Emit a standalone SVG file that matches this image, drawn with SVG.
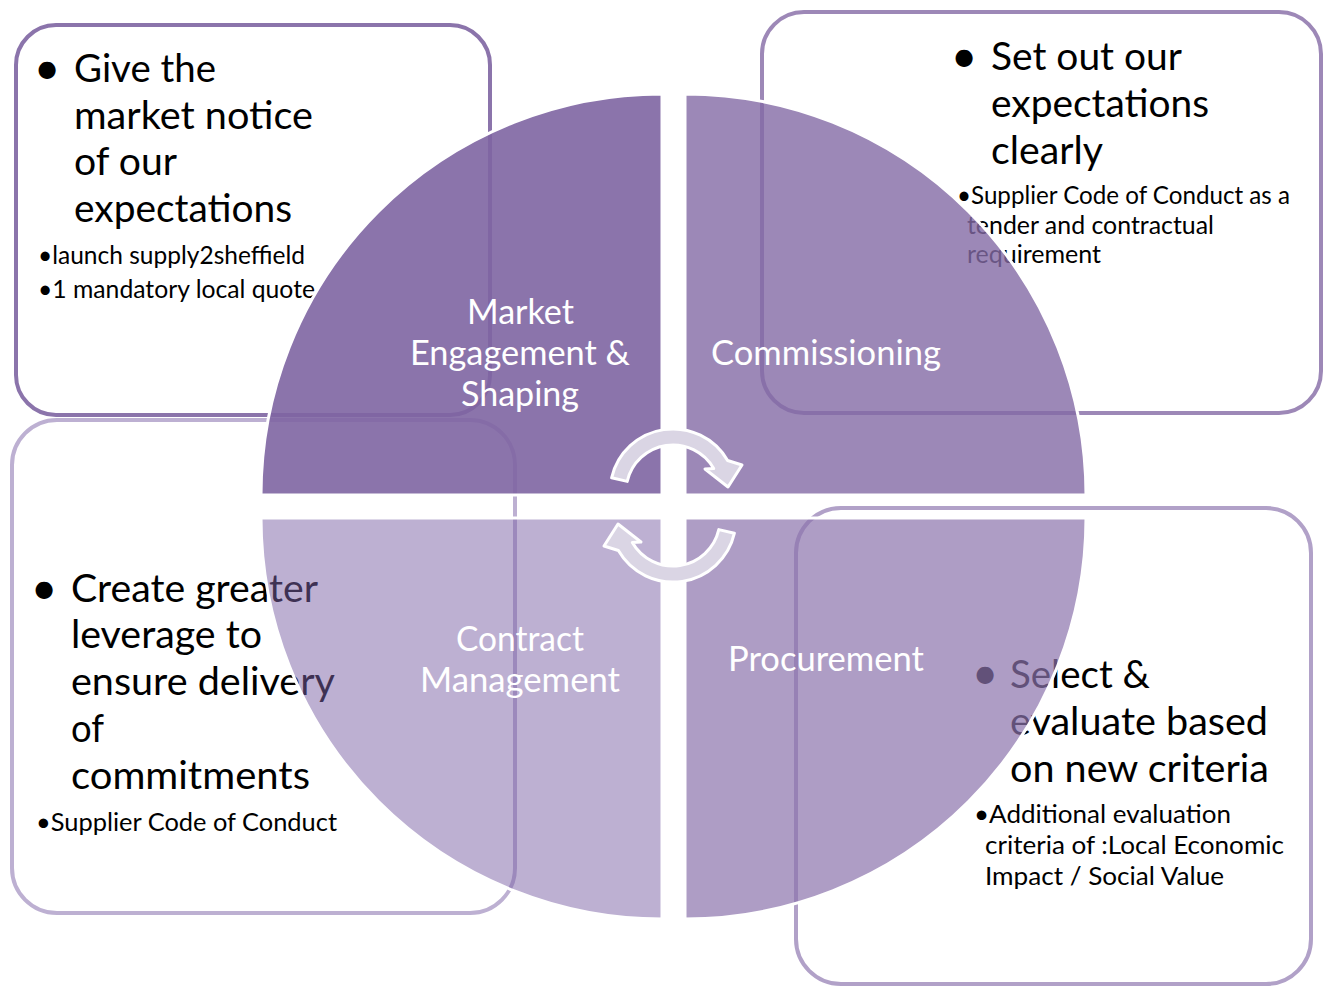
<svg xmlns="http://www.w3.org/2000/svg" width="1324" height="986" viewBox="0 0 1324 986">
<style>
.box{fill:#fff;stroke-width:4}
.t{font-family:Lato,"Open Sans","Liberation Sans",sans-serif;fill:#000}
.big{font-size:39px}
.small{font-size:25px}
.bul{font-family:Lato,"Open Sans","Liberation Sans",sans-serif;font-size:46px;text-anchor:middle}
.label{font-family:Lato,"Open Sans","Liberation Sans",sans-serif;font-size:34px;fill:#fff}
.quad{stroke:#fff;stroke-width:3}
.arrow{fill:#DAD5E4;stroke:#fff;stroke-width:3;stroke-linejoin:round}
</style>
<defs>
<path id="arr" d="M611.6,477.8 A63,63 0 0 1 727.6,460.5 L742,465 L728,487 L705,469 L713.7,468.5 A47,47 0 0 0 627.2,481.4 Z"/>
</defs>
<rect width="1324" height="986" fill="#fff"/>

<g id="box-market">
<rect class="box" x="16" y="25" width="474" height="390" rx="40" stroke="#8B74AB"/>
<text class="bul" x="47" y="84">•</text>
<text class="t big" x="74" y="82" textLength="142" lengthAdjust="spacingAndGlyphs">Give the</text>
<text class="t big" x="74" y="129" textLength="239" lengthAdjust="spacingAndGlyphs">market notice</text>
<text class="t big" x="74" y="175" textLength="103" lengthAdjust="spacingAndGlyphs">of our</text>
<text class="t big" x="74" y="222" textLength="218" lengthAdjust="spacingAndGlyphs">expectations</text>
<text class="t small" x="38" y="264" textLength="267" lengthAdjust="spacingAndGlyphs">•launch supply2sheffield</text>
<text class="t small" x="38" y="298" textLength="277" lengthAdjust="spacingAndGlyphs">•1 mandatory local quote</text>
</g>

<g id="box-commissioning">
<rect class="box" x="762" y="12" width="559" height="401" rx="42" stroke="#9D88B7"/>
<text class="bul" x="964" y="72">•</text>
<text class="t big" x="991" y="70" textLength="191" lengthAdjust="spacingAndGlyphs">Set out our</text>
<text class="t big" x="991" y="117" textLength="218" lengthAdjust="spacingAndGlyphs">expectations</text>
<text class="t big" x="991" y="164" textLength="112" lengthAdjust="spacingAndGlyphs">clearly</text>
<text class="t small" x="957" y="204" textLength="333" lengthAdjust="spacingAndGlyphs">•Supplier Code of Conduct as a</text>
<text class="t small" x="967" y="234" textLength="247" lengthAdjust="spacingAndGlyphs">tender and contractual</text>
<text class="t small" x="967" y="263" textLength="134" lengthAdjust="spacingAndGlyphs">requirement</text>
</g>

<g id="box-contract">
<rect class="box" x="12" y="420" width="503" height="493" rx="45" stroke="#BDB0D2"/>
<text class="bul" x="44" y="604">•</text>
<text class="t big" x="71" y="602" textLength="247" lengthAdjust="spacingAndGlyphs">Create greater</text>
<text class="t big" x="71" y="648" textLength="191" lengthAdjust="spacingAndGlyphs">leverage to</text>
<text class="t big" x="71" y="695" textLength="264" lengthAdjust="spacingAndGlyphs">ensure delivery</text>
<text class="t big" x="71" y="742" textLength="33" lengthAdjust="spacingAndGlyphs">of</text>
<text class="t big" x="71" y="789" textLength="239" lengthAdjust="spacingAndGlyphs">commitments</text>
<text class="t small" x="36" y="831" textLength="301" lengthAdjust="spacingAndGlyphs">•Supplier Code of Conduct</text>
</g>

<g id="box-procurement">
<rect class="box" x="796" y="508" width="515" height="476" rx="45" stroke="#B1A1C8"/>
<text class="bul" x="985" y="689">•</text>
<text class="t big" x="1010" y="688" textLength="140" lengthAdjust="spacingAndGlyphs">Select &amp;</text>
<text class="t big" x="1010" y="735" textLength="258" lengthAdjust="spacingAndGlyphs">evaluate based</text>
<text class="t big" x="1010" y="782" textLength="259" lengthAdjust="spacingAndGlyphs">on new criteria</text>
<text class="t small" x="974" y="823" textLength="257" lengthAdjust="spacingAndGlyphs">•Additional evaluation</text>
<text class="t small" x="985" y="854" textLength="299" lengthAdjust="spacingAndGlyphs">criteria of :Local Economic</text>
<text class="t small" x="985" y="885" textLength="239" lengthAdjust="spacingAndGlyphs">Impact / Social Value</text>
</g>

<g id="q-market">
<path class="quad" d="M662,495 H261 A401,401 0 0 1 662,94 Z" fill="#7E65A2" fill-opacity="0.9"/>
<text class="label" x="467" y="324" textLength="107" lengthAdjust="spacingAndGlyphs">Market</text>
<text class="label" x="410" y="365" textLength="220" lengthAdjust="spacingAndGlyphs">Engagement &amp;</text>
<text class="label" x="461" y="406" textLength="118" lengthAdjust="spacingAndGlyphs">Shaping</text>
</g>

<g id="q-commissioning">
<path class="quad" d="M685,495 V94 A401,401 0 0 1 1086,495 Z" fill="#836AA5" fill-opacity="0.8"/>
<text class="label" x="711" y="365" textLength="230" lengthAdjust="spacingAndGlyphs">Commissioning</text>
</g>

<g id="q-procurement">
<path class="quad" d="M685,518 H1086 A401,401 0 0 1 685,919 Z" fill="#8B74AC" fill-opacity="0.7"/>
<text class="label" x="728" y="671" textLength="196" lengthAdjust="spacingAndGlyphs">Procurement</text>
</g>

<g id="q-contract">
<path class="quad" d="M662,518 V919 A401,401 0 0 1 261,518 Z" fill="#7B61A5" fill-opacity="0.5"/>
<text class="label" x="456" y="651" textLength="128" lengthAdjust="spacingAndGlyphs">Contract</text>
<text class="label" x="420" y="692" textLength="200" lengthAdjust="spacingAndGlyphs">Management</text>
</g>

<g id="connectors">
<use href="#arr" class="arrow"/>
<use href="#arr" class="arrow" transform="rotate(180 673 505.5)"/>
</g>
</svg>
